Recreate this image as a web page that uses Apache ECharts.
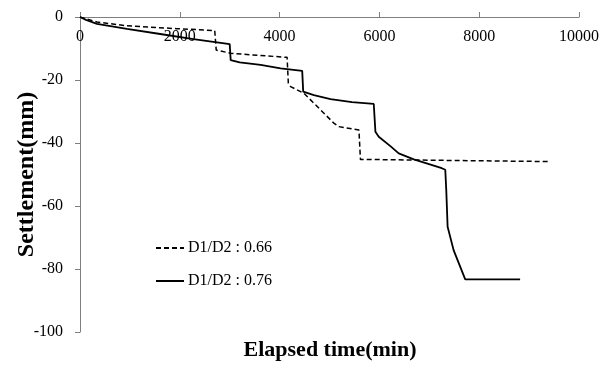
<!DOCTYPE html>
<html>
<head>
<meta charset="utf-8">
<script src="https://cdn.jsdelivr.net/npm/echarts@6/dist/echarts.min.js"></script>
<style>
  html, body { margin: 0; padding: 0; background: #fff; }
  #chart { width: 605px; height: 365px; }
</style>
</head>
<body>
<div id="chart"></div>
<script>
// Settlement histories for two diameter ratios
const seriesNames = ['D1/D2 : 0.66', 'D1/D2 : 0.76'];

const time066 = [0, 100, 340, 940, 1940, 2700, 2730, 3020, 3600, 4150, 4175, 4220, 4487, 5087, 5187, 5590, 5620, 9420];
const settle066 = [0, -0.5, -1.6, -2.8, -3.7, -4.3, -10.5, -11.5, -12.2, -12.8, -21.0, -22.1, -24.2, -33.7, -34.8, -35.9, -45.2, -45.9];

const time076 = [0, 120, 340, 940, 1607, 2273, 3000, 3020, 3200, 3620, 4020, 4453, 4473, 4687, 5020, 5450, 5887, 5920, 5987, 6220, 6387, 6690, 7250, 7320, 7340, 7367, 7487, 7720, 8820];
const settle076 = [0, -0.9, -2.2, -3.8, -5.4, -7.0, -8.6, -13.7, -14.4, -15.2, -16.3, -17.1, -23.7, -24.8, -26.1, -27.0, -27.6, -36.4, -38.0, -41.0, -43.3, -45.2, -48.0, -48.5, -54.9, -66.6, -74.0, -83.3, -83.3];

const xTicks = { min: 0, max: 10000, interval: 2000 };
const yTicks = { min: -100, max: 0, interval: 20 };

const pair = (xs, ys) => xs.map((x, i) => [x, ys[i]]);

const FONT = 'Liberation Serif';
const axisGray = '#7f7f7f';

const chart = echarts.init(document.getElementById('chart'), null, { renderer: 'canvas' });

chart.setOption({
  backgroundColor: '#ffffff',
  animation: false,
  grid: { left: 80, right: 26, top: 17, bottom: 33, containLabel: false, outerBoundsMode: 'none' },
  xAxis: {
    type: 'value',
    position: 'top',
    min: xTicks.min, max: xTicks.max, interval: xTicks.interval,
    axisLine: { show: true, onZero: false, lineStyle: { color: axisGray, width: 1 } },
    axisTick: { show: true, inside: false, length: 5, lineStyle: { color: axisGray } },
    axisLabel: {
      inside: true, margin: 12, color: '#000', fontFamily: FONT, fontSize: 16,
      formatter: v => String(v)
    },
    splitLine: { show: false }
  },
  yAxis: {
    type: 'value',
    min: yTicks.min, max: yTicks.max, interval: yTicks.interval,
    name: 'Settlement(mm)',
    nameLocation: 'middle',
    nameRotate: 90,
    nameGap: 41,
    nameMoveOverlap: false,
    nameTextStyle: { color: '#000', fontFamily: FONT, fontSize: 24, fontWeight: 'bold' },
    axisLine: { show: true, onZero: false, lineStyle: { color: axisGray, width: 1 } },
    axisTick: { show: true, inside: false, length: 5, lineStyle: { color: axisGray } },
    axisLabel: {
      margin: 17, color: '#000', fontFamily: FONT, fontSize: 16,
      formatter: v => String(v)
    },
    splitLine: { show: false }
  },
  legend: {
    orient: 'vertical',
    left: 150,
    top: 235,
    itemGap: 17,
    itemWidth: 28,
    itemHeight: 10,
    itemStyle: { opacity: 0 },
    textStyle: { color: '#000', fontFamily: FONT, fontSize: 16, padding: [0, 0, 0, -1] },
    data: seriesNames
  },
  graphic: [{
    type: 'text',
    x: 330,
    y: 350,
    style: {
      text: 'Elapsed time(min)', fill: '#000', font: 'bold 22px "Liberation Serif"',
      align: 'center', verticalAlign: 'middle'
    }
  }],
  series: [
    {
      name: seriesNames[0],
      type: 'line',
      data: pair(time066, settle066),
      showSymbol: false,
      symbol: 'none',
      lineStyle: { color: '#000', width: 1.5, type: [5, 3] },
      itemStyle: { color: '#000' }
    },
    {
      name: seriesNames[1],
      type: 'line',
      data: pair(time076, settle076),
      showSymbol: false,
      symbol: 'none',
      lineStyle: { color: '#000', width: 1.8, type: 'solid' },
      itemStyle: { color: '#000' }
    }
  ]
});
</script>
</body>
</html>
